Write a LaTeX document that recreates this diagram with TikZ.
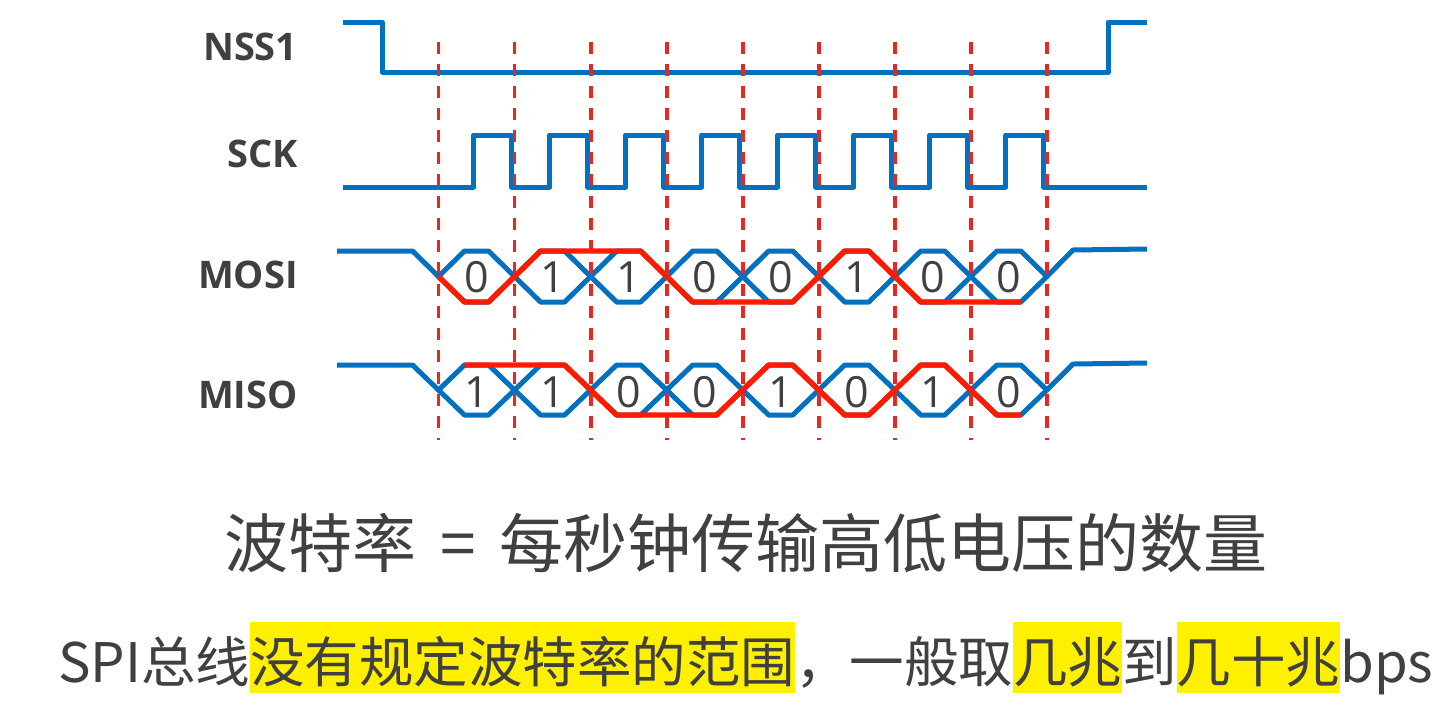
\documentclass[tikz,border=0pt]{standalone}
\usepackage{fontspec}
\setmainfont{Open Sans}
\newfontfamily\cjk{Noto Sans CJK SC}
\definecolor{wblue}{HTML}{0070C0}
\definecolor{wred}{HTML}{FF1A00}
\definecolor{dred}{HTML}{E8281E}
\definecolor{txt}{HTML}{404040}
\definecolor{hl}{HTML}{FFF000}
\newcommand{\hlbox}[1]{{\setlength{\fboxsep}{0pt}\colorbox{hl}{\rule[-5.5pt]{0pt}{35.5pt}#1}}}
\begin{document}
\begin{tikzpicture}[x=0.5pt,y=-0.5pt,
  wave/.style={draw=wblue, line width=2.5pt, line join=round},
  dataline/.style={draw=wred, line width=2.7pt, line join=round},
  guide/.style={draw=dred, line width=1.9pt, dash pattern=on 6pt off 5pt},
  sig/.style={font=\fontsize{19}{19}\selectfont\bfseries, text=txt, inner sep=0pt, anchor=base east},
  bit/.style={font=\fontsize{21.5}{21.5}\selectfont, text=txt, inner sep=0pt, anchor=base},
  cjktext/.style={text=txt, inner sep=0pt, anchor=base west}]
\fill[white] (0,0) rectangle (1442,714);
\useasboundingbox (0,0) rectangle (1442,714);
\def\xo{438.5}
\def\dx{76.05}
% signal labels
\node[sig] (lnss) at (298,60) {NSS1};
\node[sig] (lsck) at (298,167) {SCK};
\node[sig] (lmosi) at (298,288) {MOSI};
\node[sig] (lmiso) at (298,408) {MISO};
% NSS1
\draw[wave] (343,22) -- (382,22) -- (382,72) -- (1108,72) -- (1108,22) -- (1147,22);
% SCK
\draw[wave] (343,187) \foreach \k in {0,...,7}{ -- ({\xo+\dx*\k+35},187) -- ({\xo+\dx*\k+35},135) -- ({\xo+\dx*(\k+1)-3},135) -- ({\xo+\dx*(\k+1)-3},187)} -- (1147,187);
% MOSI bus
\foreach \k in {0,...,7}
  \draw[wave] ({\xo+\dx*\k},276.5) -- ({\xo+\dx*\k+26},251) -- ({\xo+\dx*(\k+1)-26},251) -- ({\xo+\dx*(\k+1)},276.5) -- ({\xo+\dx*(\k+1)-26},302) -- ({\xo+\dx*\k+26},302) -- cycle;
\draw[wave] (337,251) -- ({\xo-26},251) -- (\xo,276.5);
\draw[wave] ({\xo+8*\dx},276.5) -- (1073,250) -- (1147,249);
% MISO bus
\foreach \k in {0,...,7}
  \draw[wave] ({\xo+\dx*\k},390) -- ({\xo+\dx*\k+26},365) -- ({\xo+\dx*(\k+1)-26},365) -- ({\xo+\dx*(\k+1)},390) -- ({\xo+\dx*(\k+1)-26},415) -- ({\xo+\dx*\k+26},415) -- cycle;
\draw[wave] (337,365) -- ({\xo-26},365) -- (\xo,390);
\draw[wave] ({\xo+8*\dx},390) -- (1073,364) -- (1147,363);
% data paths
\draw[dataline] (\xo,276.5) \foreach \k/\b in {0/0,1/1,2/1,3/0,4/0,5/1,6/0,7/0}{ -- ({\xo+\dx*\k+26},{302-51*\b}) -- ({\xo+\dx*(\k+1)-26},{302-51*\b}) };
\draw[dataline] ({\xo+26},365) \foreach \k/\b in {0/1,1/1,2/0,3/0,4/1,5/0,6/1,7/0}{ -- ({\xo+\dx*\k+26},{415-50*\b}) -- ({\xo+\dx*(\k+1)-26},{415-50*\b}) };
% bit values
\foreach \k/\b in {0/0,1/1,2/1,3/0,4/0,5/1,6/0,7/0}
  \node[bit] (mo\k) at ({\xo+\dx*(\k+0.5)},292) {\b};
\foreach \k/\b in {0/1,1/1,2/0,3/0,4/1,5/0,6/1,7/0}
  \node[bit] (mi\k) at ({\xo+\dx*(\k+0.5)},407) {\b};
% guide lines
\foreach \k in {0,...,8}
  \draw[guide] ({\xo+\dx*\k},42) -- ({\xo+\dx*\k},440);
% texts
\node[cjktext, font=\cjk\fontsize{32}{32}\selectfont] (rate) at (224,567) {波特率\makebox[41.5pt]{=}每秒钟传输高低电压的数量};
\node[cjktext, font=\cjk\fontsize{27.25}{27.25}\selectfont] (note) at (58,682) {SPI总线\hlbox{没有规定波特率的范围}，一般取\hlbox{几兆}到\hlbox{几十兆}bps};
\end{tikzpicture}
\end{document}
